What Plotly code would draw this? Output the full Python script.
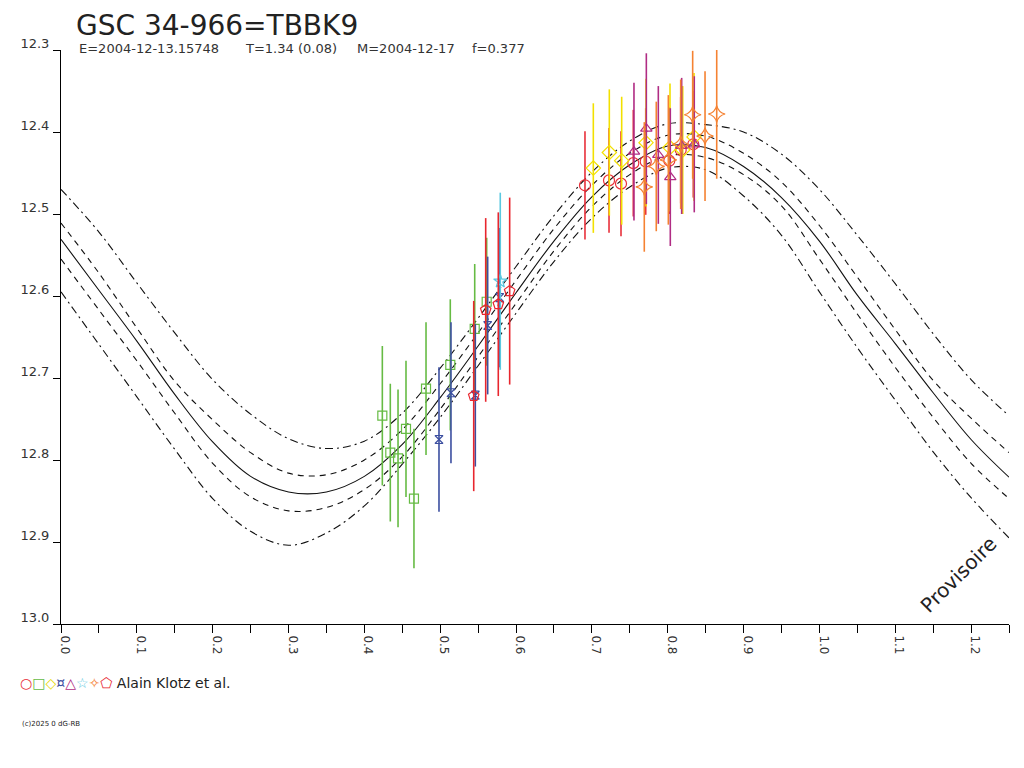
import plotly.graph_objects as go

# model light curve (solid) and its envelopes, every 0.05 in phase
phase_grid = [0.00, 0.05, 0.10, 0.15, 0.20, 0.25, 0.30, 0.35, 0.40, 0.45, 0.50, 0.55, 0.60,
              0.65, 0.70, 0.75, 0.80, 0.85, 0.90, 0.95, 1.00, 1.05, 1.10, 1.15, 1.20, 1.25]
model_mid = [12.531, 12.593, 12.655, 12.720, 12.778, 12.820, 12.839, 12.839, 12.820, 12.781,
             12.724, 12.661, 12.596, 12.533, 12.479, 12.440, 12.417, 12.419, 12.442, 12.480,
             12.533, 12.599, 12.658, 12.718, 12.775, 12.821]
model_hi2 = [12.470, 12.522, 12.584, 12.645, 12.702, 12.744, 12.774, 12.786, 12.777, 12.743,
             12.688, 12.627, 12.564, 12.502, 12.449, 12.411, 12.390, 12.391, 12.400, 12.427,
             12.470, 12.526, 12.585, 12.646, 12.702, 12.746]
model_hi1 = [12.511, 12.572, 12.639, 12.704, 12.751, 12.791, 12.816, 12.818, 12.800, 12.763,
             12.707, 12.645, 12.581, 12.518, 12.465, 12.426, 12.404, 12.405, 12.426, 12.461,
             12.514, 12.577, 12.641, 12.703, 12.749, 12.791]
model_lo1 = [12.555, 12.617, 12.679, 12.743, 12.804, 12.845, 12.862, 12.858, 12.836, 12.796,
             12.738, 12.674, 12.609, 12.545, 12.491, 12.452, 12.429, 12.431, 12.452, 12.490,
             12.555, 12.622, 12.687, 12.748, 12.804, 12.847]
model_lo2 = [12.595, 12.659, 12.723, 12.787, 12.847, 12.887, 12.904, 12.889, 12.856, 12.805,
             12.748, 12.685, 12.621, 12.558, 12.505, 12.467, 12.444, 12.446, 12.478, 12.526,
             12.595, 12.663, 12.727, 12.790, 12.846, 12.895]

# observations: phase, magnitude, error
red_ph = [0.6909, 0.7226, 0.7384, 0.7546, 0.7710, 0.8021, 0.8171, 0.8337]
red_mag = [12.465, 12.459, 12.463, 12.438, 12.436, 12.435, 12.422, 12.415]
red_err = [0.066, 0.064, 0.064, 0.065, 0.065, 0.065, 0.065, 0.065]

green_ph = [0.4237, 0.4342, 0.4444, 0.4549, 0.4654, 0.4813, 0.5133, 0.5455, 0.5613]
green_mag = [12.746, 12.791, 12.798, 12.762, 12.847, 12.713, 12.684, 12.640, 12.607]
green_err = [0.085, 0.084, 0.084, 0.083, 0.085, 0.081, 0.080, 0.079, 0.078]

yellow_ph = [0.7019, 0.7230, 0.7393, 0.7714, 0.8030, 0.8198, 0.8347]
yellow_mag = [12.444, 12.425, 12.435, 12.413, 12.419, 12.422, 12.406]
yellow_err = [0.079, 0.077, 0.078, 0.078, 0.078, 0.078, 0.078]

blue_ph = [0.4984, 0.5142, 0.5463, 0.5626, 0.5785]
blue_mag = [12.775, 12.718, 12.721, 12.636, 12.602]
blue_err = [0.088, 0.086, 0.087, 0.084, 0.085]

purple_ph = [0.7555, 0.7718, 0.7876, 0.8034, 0.8184, 0.8350]
purple_mag = [12.424, 12.396, 12.428, 12.455, 12.417, 12.415]
purple_err = [0.084, 0.092, 0.084, 0.084, 0.083, 0.083]

cyan_ph = [0.5792]
cyan_mag = [12.582]
cyan_err = [0.108]

orange_ph = [0.7691, 0.7849, 0.8008, 0.8171, 0.8329, 0.8492, 0.8646]
orange_mag = [12.467, 12.442, 12.434, 12.415, 12.379, 12.405, 12.378]
orange_err = [0.079, 0.079, 0.079, 0.079, 0.078, 0.079, 0.079]

pent_ph = [0.5442, 0.5600, 0.5766, 0.5916]
pent_mag = [12.722, 12.617, 12.610, 12.594]
pent_err = [0.116, 0.112, 0.112, 0.114]

fig = go.Figure()

for ys, dash in [(model_hi2, "8px,4px,2px,4px"), (model_hi1, "6px,5px"), (model_mid, "solid"),
                 (model_lo1, "6px,5px"), (model_lo2, "8px,4px,2px,4px")]:
    fig.add_trace(go.Scatter(x=phase_grid, y=ys, mode="lines",
                             line=dict(color="#111111", width=1.1, dash=dash, shape="spline", smoothing=1.0),
                             hoverinfo="skip"))

series = [
    (red_ph, red_mag, red_err, "#e8303a", "circle-open", 11),
    (green_ph, green_mag, green_err, "#66bb44", "square-open", 9),
    (yellow_ph, yellow_mag, yellow_err, "#f2e000", "diamond-open", 11),
    (blue_ph, blue_mag, blue_err, "#3c4fa0", "hourglass-open", 8),
    (purple_ph, purple_mag, purple_err, "#b02c84", "triangle-up-open", 10),
    (cyan_ph, cyan_mag, cyan_err, "#5bc8e0", "star-open", 10),
    (orange_ph, orange_mag, orange_err, "#f58232", "star-diamond-open", 12),
    (pent_ph, pent_mag, pent_err, "#e8262e", "pentagon-open", 11),
]
for ph, mag, err, col, sym, sz in series:
    fig.add_trace(go.Scatter(
        x=ph, y=mag, mode="markers",
        marker=dict(symbol=sym, size=sz, color=col, line=dict(color=col, width=1.2)),
        error_y=dict(type="data", array=err, visible=True, color=col, thickness=1.6, width=0),
    ))

fnt = "DejaVu Sans, Verdana, sans-serif"

# the page adds an 8px body margin, so the margins are 8px smaller than the target layout
fig.update_layout(
    width=1024, height=768,
    margin=dict(l=53, r=23, t=42, b=152),
    paper_bgcolor="white", plot_bgcolor="white",
    showlegend=False,
    font=dict(family=fnt, color="#333333", size=13),
    xaxis=dict(range=[0, 1.25], dtick=0.1, tick0=0, tickformat=".1f",
               ticks="outside", ticklen=8, tickcolor="black", tickwidth=1,
               tickangle=90, ticklabelshift=4,
               minor=dict(dtick=0.05, ticks="outside", ticklen=8, tickcolor="black"),
               showline=True, linecolor="black", linewidth=1,
               showgrid=False, zeroline=False, tickfont=dict(size=12, color="#333333")),
    yaxis=dict(range=[13.0, 12.3], dtick=0.1, tick0=12.3, tickformat=".1f",
               ticks="outside", ticklen=7, tickcolor="black", tickwidth=1,
               ticklabelshift=7, ticklabelstandoff=1,
               showline=True, linecolor="black", linewidth=1,
               showgrid=False, zeroline=False, tickfont=dict(size=13, color="#333333")),
)

def px_x(px):
    return (px - 61) / 948.0

def px_y(py):
    return (624 - py) / 574.0

# title hangs from the very top of the figure so its box is not clipped
fig.add_annotation(text="GSC 34-966=TBBK9", xref="paper", yref="paper", x=px_x(75), y=px_y(8),
                   xanchor="left", yanchor="top", borderpad=0, showarrow=False,
                   font=dict(size=28, color="#222222"))

ann = [
    dict(text="E=2004-12-13.15748", x=px_x(77), y=px_y(48)),
    dict(text="T=1.34 (0.08)", x=px_x(243), y=px_y(48)),
    dict(text="M=2004-12-17", x=px_x(355), y=px_y(48)),
    dict(text="f=0.377", x=px_x(470), y=px_y(48)),
    dict(text="<span style='color:#e8303a'>○</span><span style='color:#66bb44'>□</span>"
              "<span style='color:#e8d800'>◇</span><span style='color:#3c4fa0'>¤</span>"
              "<span style='color:#b02c84'>△</span><span style='color:#5bc8e0'>☆</span>"
              "<span style='color:#f58232'>✧</span><span style='color:#e8262e'>⬠</span>"
              " Alain Klotz et al.",
         x=px_x(18), y=px_y(683), font=dict(size=14, color="#222222")),
    dict(text="(c)2025 0 dG-RB", x=px_x(20), y=px_y(724), font=dict(size=7, color="#222222")),
]
for a in ann:
    a.setdefault("font", dict(size=13, color="#333333"))
    fig.add_annotation(xref="paper", yref="paper", xanchor="left", yanchor="middle",
                       showarrow=False, **a)

fig.add_annotation(text="Provisoire", xref="paper", yref="paper", x=px_x(958), y=px_y(575),
                   xanchor="center", yanchor="middle",
                   textangle=-45, showarrow=False, font=dict(size=20, color="#222222"))

fig.write_html("out.html")
